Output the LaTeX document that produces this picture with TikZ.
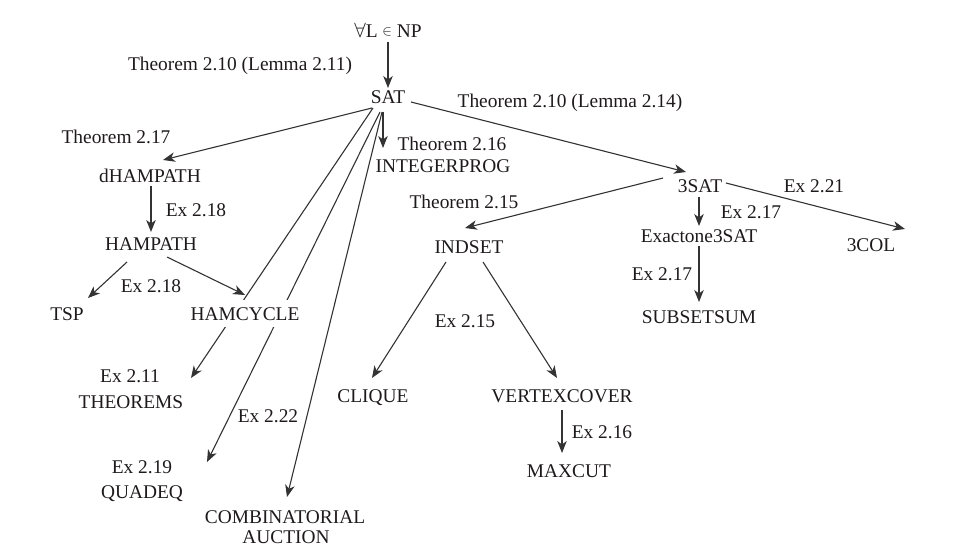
\documentclass[tikz,border=0pt]{standalone}
\usepackage{fontspec}
\setmainfont{Liberation Serif}
\usetikzlibrary{arrows.meta,backgrounds}
\definecolor{ink}{HTML}{1E1A1C}
\definecolor{wire}{HTML}{333333}
\begin{document}
\begin{tikzpicture}[x=1pt,y=-1pt,
  every node/.style={inner sep=0pt, anchor=base, text=ink, font=\fontsize{19.4}{22}\selectfont},
  prob/.style={},
  lab/.style={},
  cover/.style={fill=white, inner xsep=1pt, inner ysep=7pt},
  arr/.style={draw=wire, line width=1.1pt, -{Stealth[length=12pt,width=9.5pt,inset=3.5pt]}}]
\useasboundingbox (0,0) rectangle (963,559);
% problems
\node[prob] (np) at (388,37.5) {$\forall$L \raisebox{1.8pt}{\fontsize{15}{18}\selectfont$\in$} NP};
\node[prob] (sat) at (388,103) {SAT};
\node[prob] (ip) at (443,172) {INTEGERPROG};
\node[prob] (dham) at (150,182) {dHAMPATH};
\node[prob] (ham) at (151,250) {HAMPATH};
\node[prob] (tsp) at (67,320) {TSP};
\node[prob,cover] (hamc) at (245,320) {HAMCYCLE};
\node[prob] (thm) at (131,408) {THEOREMS};
\node[prob] (quad) at (142,498) {QUADEQ};
\node[prob] (comb) at (285,523) {COMBINATORIAL};
\node[prob] (auct) at (286,543) {AUCTION};
\node[prob] (tsat) at (700,192) {3SAT};
\node[prob] (exact) at (699,242) {Exactone3SAT};
\node[prob] (sub) at (699,323) {SUBSETSUM};
\node[prob] (tcol) at (871,251) {3COL};
\node[prob] (ind) at (469,253) {INDSET};
\node[prob] (clq) at (373,402) {CLIQUE};
\node[prob] (vc) at (562,402) {VERTEXCOVER};
\node[prob] (mc) at (569,477) {MAXCUT};
% labels
\node[lab] (l1) at (240,71) {Theorem 2.10 (Lemma 2.11)};
\node[lab] (l2) at (570,108) {Theorem 2.10 (Lemma 2.14)};
\node[lab] (l3) at (452,150) {Theorem 2.16};
\node[lab] (l4) at (116,143) {Theorem 2.17};
\node[lab] (l5) at (196,216) {Ex 2.18};
\node[lab] (l6) at (151,292) {Ex 2.18};
\node[lab] (l7) at (464,208) {Theorem 2.15};
\node[lab] (l8) at (814,192) {Ex 2.21};
\node[lab] (l9) at (751,218) {Ex 2.17};
\node[lab] (l10) at (662,280) {Ex 2.17};
\node[lab] (l11) at (130,382) {Ex 2.11};
\node[lab] (l12) at (268,422) {Ex 2.22};
\node[lab] (l13) at (142,473) {Ex 2.19};
\node[lab] (l14) at (465,327) {Ex 2.15};
\node[lab] (l15) at (602,438) {Ex 2.16};
% connectors
\begin{pgfonlayer}{background}
\draw[arr] ([shift={(0,4.5)}]np.base) -- ([shift={(0,-15)}]sat.base);
\draw[arr] ([shift={(23,-1)}]sat.base) -- ([shift={(-14,-20)}]tsat.base);
\draw[arr] ([shift={(-16,5)}]sat.base) -- ([shift={(13,-22)}]dham.base);
\draw[arr] ([shift={(-5,9)}]sat.base) -- ([shift={(-60,-24)}]ip.base);
\draw[arr] ([shift={(-15,5)}]sat.base) -- ([shift={(60,-30)}]thm.base);
\draw[arr] ([shift={(-8,9)}]sat.base) -- ([shift={(65,-36)}]quad.base);
\draw[arr] ([shift={(-6,9)}]sat.base) -- ([shift={(2,-26)}]comb.base);
\draw[arr] ([shift={(1,4)}]dham.base) -- ([shift={(0,-18)}]ham.base);
\draw[arr] ([shift={(-24,12)}]ham.base) -- ([shift={(21,-22)}]tsp.base);
\draw[arr] ([shift={(16,7)}]ham.base) -- ([shift={(0,-25)}]hamc.base);
\draw[arr] ([shift={(-37,-14)}]tsat.base) -- ([shift={(-4,-25)}]ind.base);
\draw[arr] ([shift={(-1,5)}]tsat.base) -- ([shift={(0,-16)}]exact.base);
\draw[arr] ([shift={(0,4)}]exact.base) -- ([shift={(0,-21)}]sub.base);
\draw[arr] ([shift={(26,-9)}]tsat.base) -- ([shift={(34,-22)}]tcol.base);
\draw[arr] ([shift={(-23,9)}]ind.base) -- ([shift={(-1,-24)}]clq.base);
\draw[arr] ([shift={(14,9)}]ind.base) -- ([shift={(-5,-24)}]vc.base);
\draw[arr] ([shift={(0,8)}]vc.base) -- ([shift={(-7,-24)}]mc.base);
\end{pgfonlayer}
\end{tikzpicture}
\end{document}
